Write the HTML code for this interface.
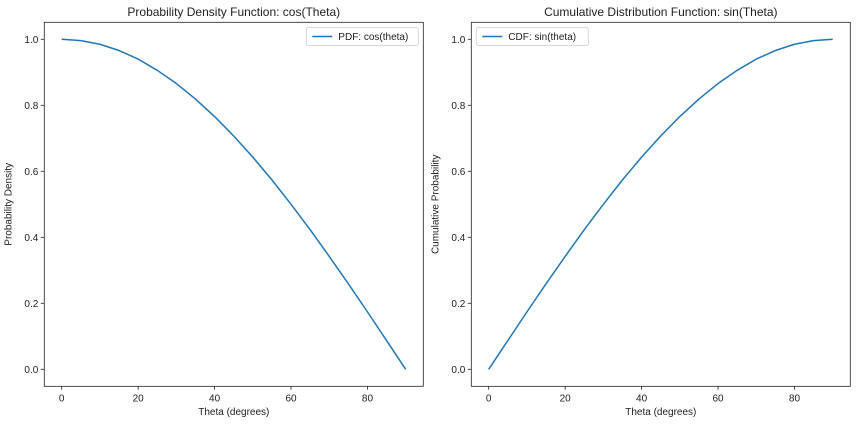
<!DOCTYPE html>
<html><head><meta charset="utf-8"><style>
body{margin:0;background:#fff;}
svg{display:block;font-family:"Liberation Sans","DejaVu Sans",sans-serif;}
</style></head><body>
<svg id="c" width="856" height="424" viewBox="0 0 856 424"></svg>
<script>
const thetaDeg=[0,5,10,15,20,25,30,35,40,45,50,55,60,65,70,75,80,85,90];
const pdfValues=[1,0.996,0.985,0.966,0.940,0.906,0.866,0.819,0.766,0.707,0.643,0.574,0.5,0.423,0.342,0.259,0.174,0.087,0];
const cdfValues=[0,0.087,0.174,0.259,0.342,0.423,0.5,0.574,0.643,0.707,0.766,0.819,0.866,0.906,0.940,0.966,0.985,0.996,1];
const xTicks=[0,20,40,60,80];
const yTicks=[0,0.2,0.4,0.6,0.8,1.0];
const panels=[
 {name:'pdf',left:44.3,title:'Probability Density Function: cos(Theta)',ylabel:'Probability Density',legend:'PDF: cos(theta)',legendRight:true,vals:pdfValues},
 {name:'cdf',left:471.3,title:'Cumulative Distribution Function: sin(Theta)',ylabel:'Cumulative Probability',legend:'CDF: sin(theta)',legendRight:false,vals:cdfValues}
];
const NS='http://www.w3.org/2000/svg';
const svg=document.getElementById('c');
function mk(tag,attrs,parent,text){const e=document.createElementNS(NS,tag);for(const k in attrs)e.setAttribute(k,attrs[k]);if(text!==undefined)e.textContent=text;(parent||svg).appendChild(e);return e;}
const W=379,plotTop=22.3,plotBottom=386.3;
panels.forEach(p=>{
 const g=mk('g',{});
 
 
 const x0=p.left+17.4, x90=p.left+361.4;
 const sx=v=>x0+(x90-x0)*v/90;
 const sy=v=>369.3-330*v;
 let t=mk('text',{x:p.left+W/2,y:16,'text-anchor':'middle','font-size':12,fill:'#222'},g,p.title);
 
 
 xTicks.forEach(v=>{
  mk('line',{x1:sx(v),x2:sx(v),y1:plotBottom,y2:plotBottom+3.5,stroke:'#222','stroke-width':0.8},g);
  const l=mk('text',{x:sx(v),y:plotBottom+15,'text-anchor':'middle','font-size':10,fill:'#222'},g,String(v));
  
  
 });
 yTicks.forEach(v=>{
  mk('line',{x1:p.left-3.5,x2:p.left,y1:sy(v),y2:sy(v),stroke:'#222','stroke-width':0.8},g);
  const l=mk('text',{x:p.left-6,y:sy(v)+3.5,'text-anchor':'end','font-size':10,fill:'#222'},g,v.toFixed(1));
  
  
 });
 let xl=mk('text',{x:p.left+W/2,y:415,'text-anchor':'middle','font-size':10,fill:'#222'},g,'Theta (degrees)');
 
 
 const yx=p.left-33, ym=(plotTop+plotBottom)/2;
 let yl=mk('text',{x:yx,y:ym,'text-anchor':'middle','font-size':10,fill:'#222',transform:`rotate(-90 ${yx} ${ym})`},g,p.ylabel);
 
 
 const pts=thetaDeg.map((d,i)=>sx(d).toFixed(2)+','+sy(p.vals[i]).toFixed(2)).join(' ');
 let line=mk('polyline',{points:pts,fill:'none',stroke:'#1f77b4','stroke-width':1.5,'stroke-linejoin':'round'},g);
 
 
 let fr=mk('rect',{x:p.left,y:plotTop,width:W,height:plotBottom-plotTop,fill:'none',stroke:'#222','stroke-width':0.8},g);
 
 
 const lw=112,lx=p.legendRight?p.left+W-lw-5:p.left+5;
 const lg=mk('g',{},g);
 
 
 mk('rect',{x:lx,y:27.5,width:lw,height:18,rx:2,fill:'#fff',stroke:'#ccc','stroke-width':0.8},lg);
 mk('line',{x1:lx+6,x2:lx+26,y1:36.5,y2:36.5,stroke:'#1f77b4','stroke-width':1.5},lg);
 mk('text',{x:lx+32,y:40,'font-size':10,fill:'#222'},lg,p.legend);
});
</script>
</body></html>
